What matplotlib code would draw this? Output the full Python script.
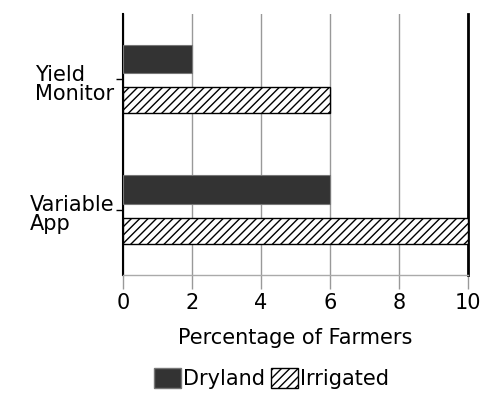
import numpy as np
import matplotlib
matplotlib.use("Agg")
import matplotlib.pyplot as plt
import matplotlib.transforms as mtransforms
from matplotlib.patches import Patch

# data
categories = ["Variable\nApp", "Yield\nMonitor"]
dryland = [6, 2]
irrigated = [10, 6]
x_ticks = [0, 2, 4, 6, 8, 10]

plt.rcParams['hatch.linewidth'] = 1.0

fig = plt.figure(figsize=(4.85, 3.93), dpi=100)
ax = fig.add_axes([0.2536, 0.3003, 0.7113, 0.664])

y = np.arange(len(categories))
ax.barh(y + 0.155, dryland, height=0.22, color="#333333", edgecolor="#777777",
        linewidth=0.8, zorder=3)
ax.barh(y - 0.16, irrigated, height=0.20, color="white", edgecolor="black",
        hatch="////", linewidth=1.0, zorder=3)

ax.set_xlim(0, 10)
ax.set_ylim(-0.5, 1.5)
ax.set_xticks(x_ticks)
ax.set_xticklabels([str(t) for t in x_ticks], fontsize=15)
ax.set_yticks(y)
ax.set_yticklabels([])

# category labels sit a little below their ticks, so place them by hand
trans = mtransforms.blended_transform_factory(ax.transAxes, ax.transData)
trans = trans + mtransforms.ScaledTranslation(-9 / 100, -5 / 100,
                                              fig.dpi_scale_trans)
for yi, name in zip(y, categories):
    ax.text(0, yi, name, transform=trans, ha="right", va="center",
            multialignment="left", fontsize=15, linespacing=0.95)

ax.xaxis.grid(True, color="#999999", linewidth=1.0, zorder=0)
ax.tick_params(axis="x", direction="out", length=10, width=1.0,
               color="#999999", pad=3)
ax.tick_params(axis="y", direction="out", length=5, width=1.0, color="black",
               pad=2)

ax.spines["top"].set_visible(False)
ax.spines["left"].set_color("black")
ax.spines["left"].set_linewidth(1.5)
ax.spines["right"].set_color("black")
ax.spines["right"].set_linewidth(2.0)
ax.spines["bottom"].set_color("#aaaaaa")
ax.spines["bottom"].set_linewidth(1.0)

ax.set_xlabel("Percentage of Farmers", fontsize=15, labelpad=11)

handles = [Patch(facecolor="#333333", edgecolor="#777777", label="Dryland"),
           Patch(facecolor="white", edgecolor="black", hatch="////",
                 label="Irrigated")]
fig.legend(handles=handles, loc="center", bbox_to_anchor=(0.56, 0.038),
           ncol=2, frameon=False, fontsize=15, handlelength=1.3,
           handleheight=1.1, handletextpad=0.1, columnspacing=0.3)

fig.savefig("out.png", dpi=100)
